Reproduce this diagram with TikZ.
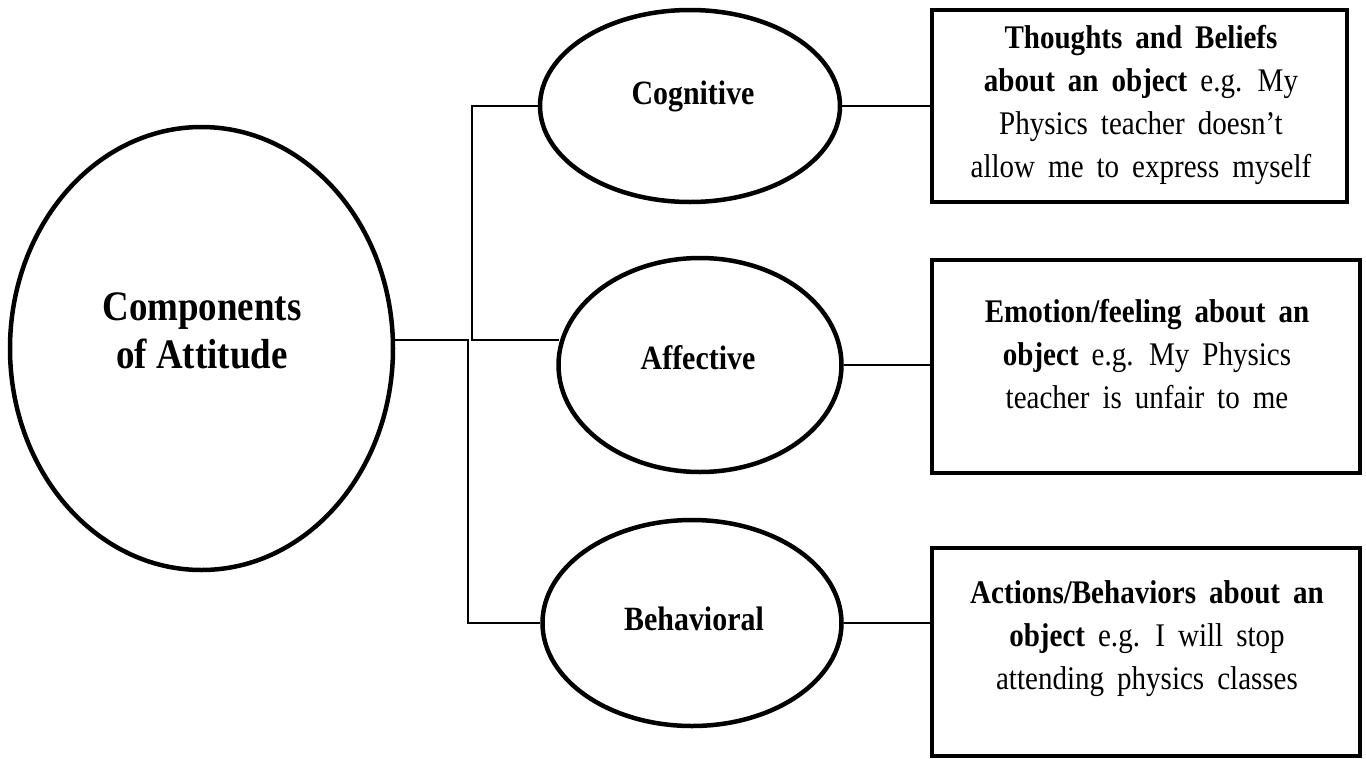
\documentclass[tikz,border=0pt]{standalone}
\usepackage{fontspec}
\setmainfont{Liberation Serif}[FakeStretch=0.88]
\usetikzlibrary{shapes.geometric}
% wider interword spaces for the description texts
\newcommand\widewords{\spaceskip=13pt plus 2pt minus 1pt\relax}
\begin{document}
\begin{tikzpicture}[x=1pt,y=-1pt,
  oval/.style={draw, ellipse, line width=4.5pt, inner sep=0pt},
  panel/.style={draw, rectangle, line width=4pt, inner sep=0pt},
  wire/.style={line width=1.5pt},
  caption/.style={font={\fontsize{33}{43}\selectfont\widewords}, align=center, inner sep=0pt},
  ovaltext/.style={font=\fontsize{34}{40}\selectfont\bfseries, inner sep=0pt},
  titletext/.style={font=\fontsize{42}{48}\selectfont\bfseries, align=center, inner sep=0pt}]
\useasboundingbox (0,0) rectangle (1366,758);

% central ellipse
\node[oval, minimum width=383pt, minimum height=443pt] (att) at (201.5,348.5) {};
\node[titletext] (attT) at (202,331) {Components\\of Attitude};

% three component ellipses
\node[oval, minimum width=300pt, minimum height=192pt] (cog) at (690,106) {};
\node[ovaltext] (cogT) at (693,96) {Cognitive};
\node[oval, minimum width=283pt, minimum height=214pt] (aff) at (700,365) {};
\node[ovaltext] (affT) at (698,358) {Affective};
\node[oval, minimum width=299pt, minimum height=206pt] (beh) at (692,623) {};
\node[ovaltext] (behT) at (694,619) {Behavioral};

% description boxes
\node[panel, minimum width=415pt, minimum height=192pt] (b1) at (1139.5,106) {};
\node[caption] (b1T) at (1141,105) {{\bfseries Thoughts and Beliefs}\\{\bfseries about an object} e.g. My\\Physics teacher doesn’t\\allow me to express myself};
\node[panel, minimum width=428pt, minimum height=213pt] (b2) at (1146,366.5) {};
\node[caption] (b2T) at (1147,354) {{\bfseries Emotion/feeling about an}\\{\bfseries object} e.g. My Physics\\teacher is unfair to me};
\node[panel, minimum width=428pt, minimum height=208pt] (b3) at (1146,652) {};
\node[caption] (b3T) at (1147,639) {{\bfseries Actions/Behaviors about an}\\{\bfseries object} e.g. I will stop\\attending physics classes};

% junction points of the tree
\coordinate (jA) at (472,340);
\coordinate (jB) at (468,340);

% tree connectors
\draw[wire] (cog.west) -| (jA) -- ([xshift=3pt]aff.west |- jA);
\draw[wire] (att.east |- jB) -- (jB) |- (beh.west);

% ellipse-to-box connectors
\draw[wire] (cog.east) -- (b1.west |- cog.east);
\draw[wire] (aff.east) -- (b2.west |- aff.east);
\draw[wire] (beh.east) -- (b3.west |- beh.east);
\end{tikzpicture}
\end{document}
